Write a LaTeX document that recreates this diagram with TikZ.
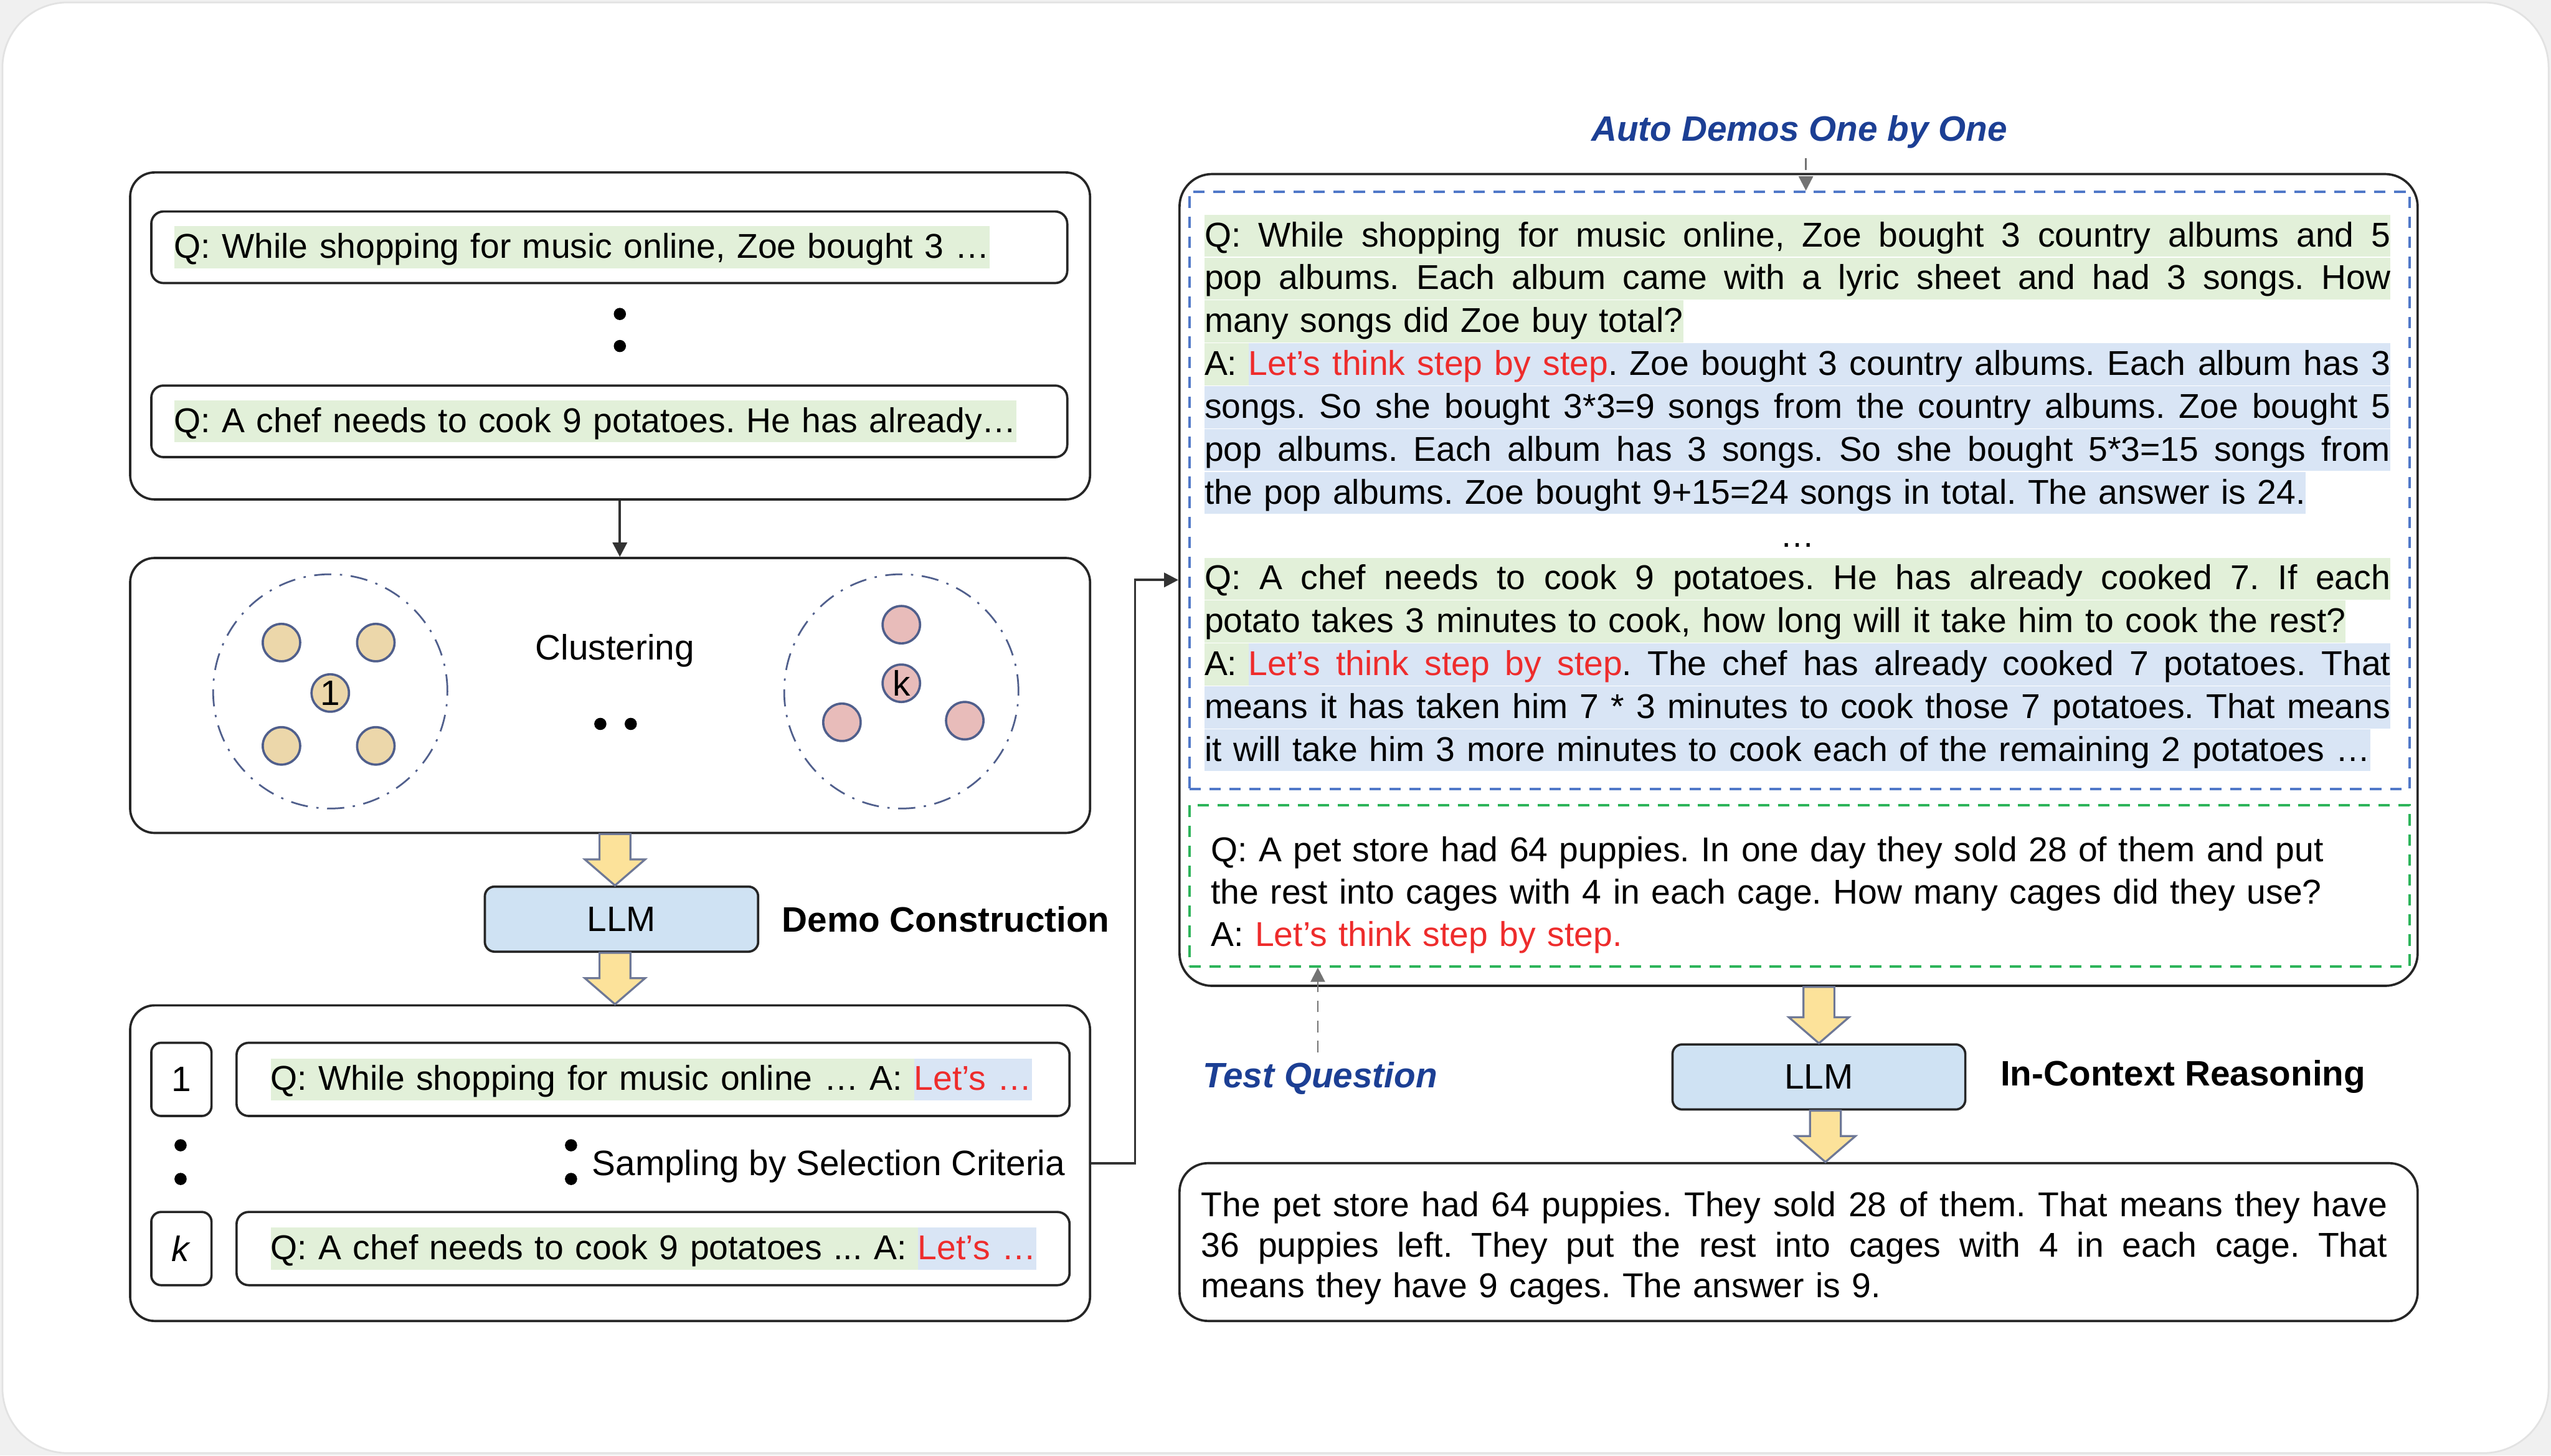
\documentclass[tikz,border=0pt]{standalone}
\usepackage{fontspec}
\setmainfont{Liberation Sans}
\usetikzlibrary{arrows.meta, positioning, calc}

\definecolor{qgreen}{HTML}{E2F0D9}
\definecolor{ablue}{HTML}{D9E5F5}
\definecolor{letred}{HTML}{EE2C2C}
\definecolor{titleblue}{HTML}{1C3F94}
\definecolor{llmblue}{HTML}{CFE2F3}
\definecolor{yfill}{HTML}{FCE29A}
\definecolor{ydraw}{HTML}{6E7896}
\definecolor{tanfill}{HTML}{ECD7AA}
\definecolor{pinkfill}{HTML}{E8BCBA}
\definecolor{circdraw}{HTML}{505F8C}
\definecolor{autodash}{HTML}{5078C8}
\definecolor{testdash}{HTML}{2DB45A}
\definecolor{bggray}{HTML}{F0F0F0}
\definecolor{cardline}{HTML}{E2E2E2}

\setlength{\fboxsep}{0pt}
\newlength{\hlw}
\setlength{\hlw}{14.58cm}
\newsavebox{\hlbox}
\newcommand{\hlstrut}{\rule[-3.5pt]{0pt}{14.7pt}}
\newcommand{\fillglue}{\frenchspacing\spaceskip=0.278em plus 1fil minus 0.12em\relax}
\newcommand{\redtxt}[1]{\textcolor{letred}{#1}}
\newcommand{\hlfull}[2]{\colorbox{#1}{\makebox[\hlw][s]{\fillglue\hlstrut#2}}}
\newcommand{\hlpart}[2]{\colorbox{#1}{\hlstrut#2}}
\newcommand{\hlmix}[2]{\sbox{\hlbox}{\hlstrut#1}\colorbox{qgreen}{\usebox{\hlbox}}\colorbox{ablue}{\makebox[\dimexpr\hlw-\wd\hlbox\relax][s]{\fillglue\hlstrut#2}}}
\newcommand{\justline}[1]{\makebox[\hlw][s]{\fillglue\strut#1}}
% yellow block arrow: x (cm), from node, to node
\newcommand{\blockarrow}[3]{%
  \path[yarrow] let \p1=(#2.south), \p2=(#3.north) in
    ({#1cm-0.19cm},\y1) -- ({#1cm+0.19cm},\y1) -- ({#1cm+0.19cm},{\y2+0.32cm})
    -- ({#1cm+0.37cm},{\y2+0.32cm}) -- ({#1cm},\y2) -- ({#1cm-0.37cm},{\y2+0.32cm})
    -- ({#1cm-0.19cm},{\y2+0.32cm}) -- cycle;}

\begin{document}
\frenchspacing
\begin{tikzpicture}[
    >={Triangle[length=5pt, width=5pt]},
    font=\fontsize{12.35}{14.9}\selectfont,
    panel/.style={rectangle, draw=black!85, line width=0.8pt, rounded corners=0.3cm, minimum width=11.8cm, inner sep=0pt},
    qline/.style={rectangle, draw=black!85, line width=0.8pt, rounded corners=0.15cm, minimum height=0.88cm, inner xsep=0.28cm, inner ysep=0pt, text width=10.7cm, align=left, font=\fontsize{12.05}{14.9}\selectfont},
    demo/.style={qline, minimum height=0.9cm, inner xsep=0.42cm, text width=9.4cm},
    idx/.style={rectangle, draw=black!85, line width=0.8pt, rounded corners=0.12cm, minimum width=0.74cm, minimum height=0.9cm, inner sep=0pt},
    llm/.style={rectangle, draw=black!85, fill=llmblue, line width=0.8pt, rounded corners=0.12cm, minimum height=0.8cm},
    stage/.style={font=\fontsize{12.35}{14.9}\selectfont\bfseries},
    tag/.style={font=\fontsize{12.35}{14.9}\selectfont\bfseries\itshape, text=titleblue},
    cluster/.style={circle, draw=circdraw, line width=0.6pt, dash pattern=on 6pt off 3pt on 0.8pt off 3pt, minimum size=2.88cm},
    member/.style={circle, draw=circdraw, line width=0.8pt, minimum size=0.46cm, inner sep=0pt},
    bullet/.style={circle, fill=black, minimum size=0.15cm, inner sep=0pt},
    dashbox/.style={rectangle, line width=0.9pt, dash pattern=on 4pt off 3pt, minimum width=15cm},
    para/.style={anchor=north west, text width=\hlw, inner sep=0pt, align=left},
    arrow/.style={->, line width=0.8pt, draw=black!80},
    dasharrow/.style={->, line width=0.6pt, draw=black!55, dash pattern=on 4pt off 3pt},
    yarrow/.style={fill=yfill, draw=ydraw, line width=0.7pt},
]

\useasboundingbox (0,0) rectangle (31.36,-17.894);
\fill[bggray] (0,0) rectangle (31.36,-17.894);
\filldraw[fill=white, draw=cardline, line width=0.6pt, rounded corners=0.8cm] (0.03,-0.03) rectangle (31.33,-17.864);

% === Questions ===
\node (qbox) [panel, minimum height=4.02cm] at (7.5,-4.13) {};
\node (q1) [qline] at (7.49,-3.04) {\hlpart{qgreen}{Q: While shopping for music online, Zoe bought 3 …}};
\node (q2) [qline] at (7.49,-5.18) {\hlpart{qgreen}{Q: A chef needs to cook 9 potatoes. He has already…}};
\node (qd1) [bullet] at (7.62,-3.86) {};
\node (qd2) [bullet, below=0.23cm of qd1] {};

% === Clustering ===
\node (clbox) [panel, minimum height=3.38cm] at (7.5,-8.55) {};
\node (clus1) [cluster] at (4.06,-8.5) {};
\node (c1) [member, fill=tanfill] at (4.06,-8.52) {1};
\node (c1a) [member, fill=tanfill] at ($(c1)+(-0.6,0.62)$) {};
\node (c1b) [member, fill=tanfill] at ($(c1)+(0.56,0.62)$) {};
\node (c1c) [member, fill=tanfill] at ($(c1)+(-0.6,-0.65)$) {};
\node (c1d) [member, fill=tanfill] at ($(c1)+(0.56,-0.65)$) {};
\node (clus2) [cluster] at (11.08,-8.5) {};
\node (ck) [member, fill=pinkfill] at (11.08,-8.4) {k};
\node (cka) [member, fill=pinkfill] at ($(ck)+(0,0.72)$) {};
\node (ckb) [member, fill=pinkfill] at ($(ck)+(-0.73,-0.48)$) {};
\node (ckc) [member, fill=pinkfill] at ($(ck)+(0.78,-0.46)$) {};
\node (cltext) at (7.56,-8.0) {Clustering};
\node (cd1) [bullet] at (7.38,-8.9) {};
\node (cd2) [bullet, right=0.21cm of cd1] {};

% === Demo construction ===
\node (llm1) [llm, minimum width=3.36cm] at (7.64,-11.3) {LLM};
\node (stage1) [stage, right=0.155cm of llm1] {Demo Construction};

% === Sampled demos ===
\node (sampbox) [panel, minimum height=3.88cm] at (7.5,-14.3) {};
\node (i1) [idx] at (2.23,-13.27) {1};
\node (d1) [demo, right=0.28cm of i1] {\hlpart{qgreen}{Q: While shopping for music online … A:\ }\hlpart{ablue}{\redtxt{Let’s …}}};
\node (ik) [idx] at (2.23,-15.35) {\textit{k}};
\node (dk) [demo, right=0.28cm of ik] {\hlpart{qgreen}{Q: A chef needs to cook 9 potatoes ... A:\ }\hlpart{ablue}{\redtxt{Let’s …}}};
\node (sd1) [bullet] at (2.22,-14.08) {};
\node (sd2) [bullet, below=0.25cm of sd1] {};
\node (sd3) [bullet] at (7.02,-14.08) {};
\node (sd4) [bullet, below=0.25cm of sd3] {};
\node (samptext) [anchor=west] at (7.155,-14.34) {Sampling by Selection Criteria};

% === Auto demos one by one ===
\node (demobox) [panel, minimum width=15.22cm, minimum height=9.98cm, rounded corners=0.4cm] at (22.11,-7.13) {};
\node (autobox) [dashbox, draw=autodash, minimum height=7.34cm] at (22.12,-6.03) {};
\node (testbox) [dashbox, draw=testdash, minimum height=1.98cm] at (22.12,-10.89) {};
\node (title) [tag] at (22.12,-1.62) {Auto Demos One by One};

\node (demos) [para, font=\fontsize{12.05}{15}\selectfont] at (14.8,-2.632) {%
\hlfull{qgreen}{Q: While shopping for music online, Zoe bought 3 country albums and 5}\\
\hlfull{qgreen}{pop albums. Each album came with a lyric sheet and had 3 songs. How}\\
\hlpart{qgreen}{many songs did Zoe buy total?}\\
\hlmix{A:\ }{\redtxt{Let’s think step by step}. Zoe bought 3 country albums. Each album has 3}\\
\hlfull{ablue}{songs. So she bought 3*3=9 songs from the country albums. Zoe bought 5}\\
\hlfull{ablue}{pop albums. Each album has 3 songs. So she bought 5*3=15 songs from}\\
\hlpart{ablue}{the pop albums. Zoe bought 9+15=24 songs in total. The answer is 24.}\\
\makebox[\hlw]{\hlstrut …}\\
\hlfull{qgreen}{Q: A chef needs to cook 9 potatoes. He has already cooked 7. If each}\\
\hlpart{qgreen}{potato takes 3 minutes to cook, how long will it take him to cook the rest?}\\
\hlmix{A:\ }{\redtxt{Let’s think step by step}. The chef has already cooked 7 potatoes. That}\\
\hlfull{ablue}{means it has taken him 7 * 3 minutes to cook those 7 potatoes. That means}\\
\hlpart{ablue}{it will take him 3 more minutes to cook each of the remaining 2 potatoes …}};

\node (test) [para, font=\fontsize{12.05}{14.75}\selectfont] at (14.88,-10.226) {%
\strut Q: A pet store had 64 puppies. In one day they sold 28 of them and put\\
\strut the rest into cages with 4 in each cage. How many cages did they use?\\
\strut A: \redtxt{Let’s think step by step.}};

% === In-context reasoning ===
\node (testlabel) [tag] at (16.23,-13.26) {Test Question};
\node (llm2) [llm, minimum width=3.6cm] at (22.36,-13.24) {LLM};
\node (stage2) [stage, right=0.295cm of llm2] {In-Context Reasoning};
\node (answer) [panel, minimum width=15.22cm, minimum height=1.94cm, rounded corners=0.35cm] at (22.11,-15.27) {};
\node (anstext) [para, font=\fontsize{12.05}{14.2}\selectfont] at (14.76,-14.6) {%
\justline{The pet store had 64 puppies. They sold 28 of them. That means they have}\\
\justline{36 puppies left. They put the rest into cages with 4 in each cage. That}\\
\strut means they have 9 cages. The answer is 9.};

% === Connectors ===
\draw[arrow] ([xshift=0.12cm]qbox.south) -- ([xshift=0.12cm]clbox.north);
\draw[arrow] (sampbox.east) -- ++(0.54,0) |- (demobox.west);
\draw[dasharrow] ([xshift=0.08cm]title.south) -- ([xshift=0.08cm]title.south |- autobox.north);
\draw[dasharrow] ([xshift=-0.03cm]testlabel.north) -- ([xshift=-0.03cm]testlabel.north |- testbox.south);

\blockarrow{7.56}{clbox}{llm1}
\blockarrow{7.56}{llm1}{sampbox}
\blockarrow{22.36}{demobox}{llm2}
\blockarrow{22.44}{llm2}{answer}

\end{tikzpicture}
\end{document}
